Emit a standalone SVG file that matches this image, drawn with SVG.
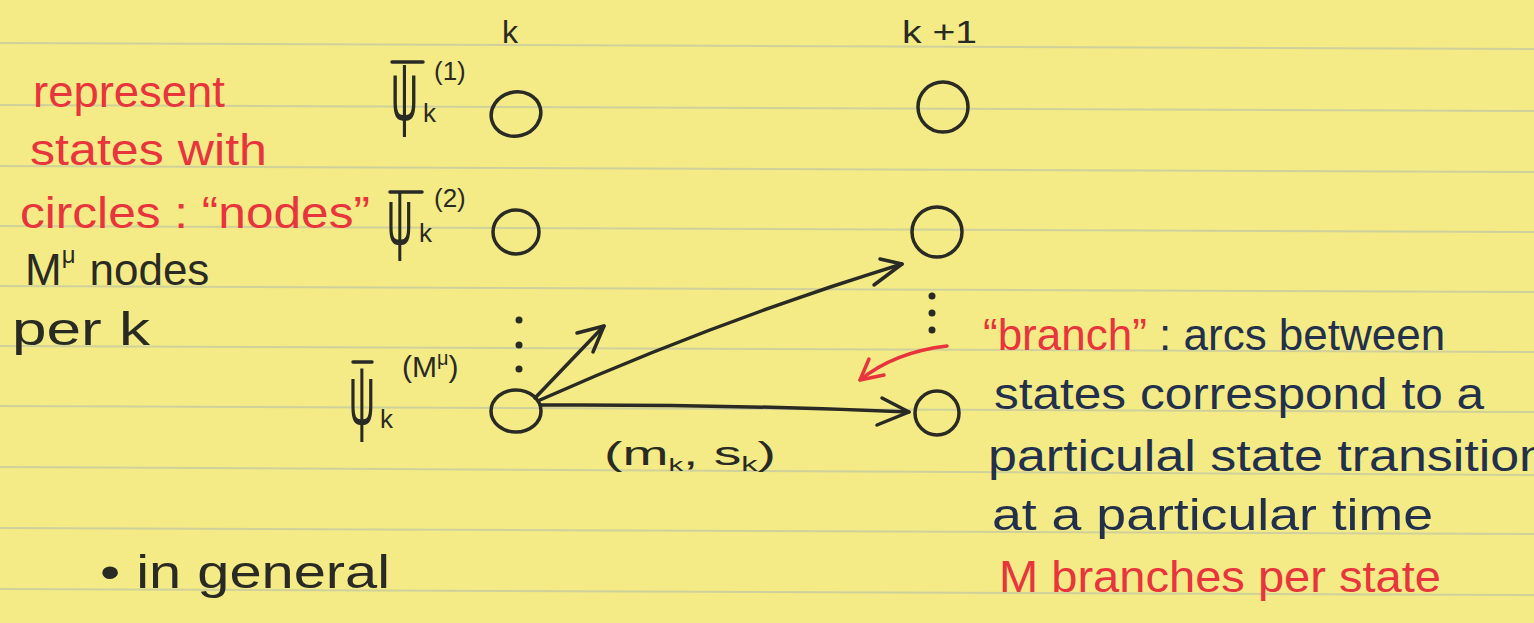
<svg xmlns="http://www.w3.org/2000/svg" width="1534" height="623" viewBox="0 0 1534 623">
<style>
.ink{fill:#2a2a24;font-family:"Liberation Sans",sans-serif}
.red{fill:#e8343c;font-family:"Liberation Sans",sans-serif}
.blue{fill:#22304c;font-family:"Liberation Sans",sans-serif}
.rule{stroke:#c3c8a4;stroke-width:2;opacity:0.75}
.node{fill:none;stroke:#2a2a24;stroke-width:3.5}
.edge{fill:none;stroke:#2a2a24;stroke-width:3.5;stroke-linecap:round;stroke-linejoin:round}
.redge{fill:none;stroke:#e8343c;stroke-width:3.5;stroke-linecap:round;stroke-linejoin:round}
.bar{stroke:#2a2a24;stroke-width:3.5;stroke-linecap:round}
.dot{fill:#2a2a24}
</style>
<rect x="0" y="0" width="1534" height="623" fill="#f4eb86"/>
<g id="rules">
<line class="rule" x1="0" y1="43" x2="1534" y2="49"/>
<line class="rule" x1="0" y1="105" x2="1534" y2="111"/>
<line class="rule" x1="0" y1="166" x2="1534" y2="172"/>
<line class="rule" x1="0" y1="226" x2="1534" y2="232"/>
<line class="rule" x1="0" y1="286" x2="1534" y2="292"/>
<line class="rule" x1="0" y1="346" x2="1534" y2="352"/>
<line class="rule" x1="0" y1="406" x2="1534" y2="412"/>
<line class="rule" x1="0" y1="467" x2="1534" y2="475"/>
<line class="rule" x1="0" y1="528" x2="1534" y2="534"/>
<line class="rule" x1="0" y1="589" x2="1534" y2="595"/>
</g>

<g id="notes-left">
<text class="red" x="33" y="107" font-size="44" textLength="192" lengthAdjust="spacingAndGlyphs">represent</text>
<text class="red" x="30" y="165" font-size="44" textLength="237" lengthAdjust="spacingAndGlyphs">states with</text>
<text class="red" x="20" y="228" font-size="44" textLength="350" lengthAdjust="spacingAndGlyphs">circles : “nodes”</text>
<text class="ink" x="25" y="285" font-size="44"><tspan>M</tspan><tspan font-size="24" dy="-22">μ</tspan><tspan dy="22" dx="14">nodes</tspan></text>
<text class="ink" x="12" y="345" font-size="46" textLength="138" lengthAdjust="spacingAndGlyphs">per k</text>
<text class="ink" x="100" y="588" font-size="46" textLength="290" lengthAdjust="spacingAndGlyphs">• in general</text>
</g>

<g id="col-labels">
<text class="ink" x="502" y="43" font-size="32">k</text>
<text class="ink" x="902" y="43" font-size="32" textLength="75" lengthAdjust="spacingAndGlyphs">k +1</text>
</g>

<g id="node-k-1">
<ellipse class="node" cx="516" cy="114" rx="25" ry="22" transform="rotate(-15 516 114)"/>
<line class="bar" x1="392" y1="62" x2="423" y2="62"/>
<text class="ink" font-size="84" transform="translate(391 120) scale(0.45 1)">ψ</text>
<text class="ink" x="423" y="122" font-size="26">k</text>
<text class="ink" x="434" y="80" font-size="26">(1)</text>
</g>
<g id="node-k-2">
<ellipse class="node" cx="516" cy="232" rx="23" ry="22"/>
<line class="bar" x1="390" y1="192" x2="422" y2="192"/>
<text class="ink" font-size="80" transform="translate(387 244) scale(0.45 1)">ψ</text>
<text class="ink" x="419" y="242" font-size="26">k</text>
<text class="ink" x="434" y="207" font-size="26">(2)</text>
</g>
<g id="node-k-M">
<ellipse class="node" cx="516" cy="411" rx="25" ry="21"/>
<line class="bar" x1="353" y1="362" x2="372" y2="362"/>
<text class="ink" font-size="86" transform="translate(349 424) scale(0.42 1)">ψ</text>
<text class="ink" x="380" y="428" font-size="26">k</text>
<text class="ink" x="402" y="377" font-size="30"><tspan>(M</tspan><tspan font-size="20" dy="-12">μ</tspan><tspan dy="12">)</tspan></text>
</g>
<g id="node-k1-1">
<circle class="node" cx="943" cy="107" r="25"/>
</g>
<g id="node-k1-2">
<circle class="node" cx="937" cy="232" r="25"/>
</g>
<g id="node-k1-M">
<circle class="node" cx="937" cy="413" r="22"/>
</g>
<g id="ellipsis">
<circle class="dot" cx="519" cy="320" r="3.5"/>
<circle class="dot" cx="519" cy="345" r="3.5"/>
<circle class="dot" cx="519" cy="369" r="3.5"/>
<circle class="dot" cx="932" cy="296" r="3.5"/>
<circle class="dot" cx="932" cy="313" r="3.5"/>
<circle class="dot" cx="932" cy="330" r="3.5"/>
</g>

<g id="connectors">
<path class="edge" d="M541 405 Q720 404 909 412"/>
<path class="edge" d="M882 398 L909 412 L877 425"/>
<path class="edge" d="M535 398 L604 326"/>
<path class="edge" d="M577 333 L604 326 L593 352"/>
<path class="edge" d="M540 400 Q720 320 902 264"/>
<path class="edge" d="M880 259 L902 264 L874 285"/>
<path class="redge" d="M947 346 Q895 352 860 380"/>
<path class="redge" d="M869 359 L860 380 L884 375"/>
<text class="ink" x="604" y="465" font-size="34" textLength="172" lengthAdjust="spacingAndGlyphs">(m<tspan font-size="18" dy="6">k</tspan><tspan dy="-6">,  s</tspan><tspan font-size="20" dy="6">k</tspan><tspan dy="-6">)</tspan></text>
</g>

<g id="notes-right">
<text x="983" y="350" font-size="44"><tspan class="red">“branch”</tspan><tspan class="blue"> : arcs between</tspan></text>
<text class="blue" x="994" y="409" font-size="44" textLength="490" lengthAdjust="spacingAndGlyphs">states correspond to a</text>
<text class="blue" x="988" y="471" font-size="44" textLength="560" lengthAdjust="spacingAndGlyphs">particulal state transition</text>
<text class="blue" x="992" y="530" font-size="44" textLength="441" lengthAdjust="spacingAndGlyphs">at a particular time</text>
<text class="red" x="999" y="592" font-size="44" textLength="442" lengthAdjust="spacingAndGlyphs">M branches per state</text>
</g>
</svg>
